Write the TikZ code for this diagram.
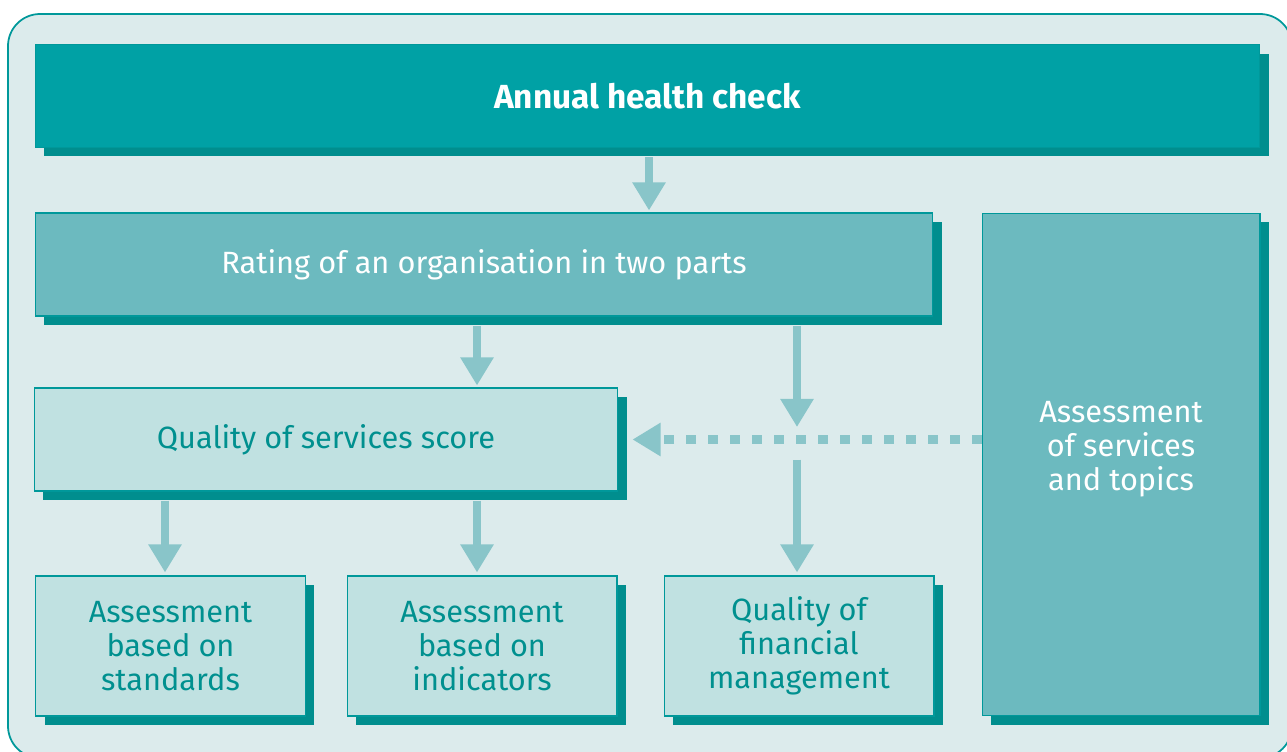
\documentclass[tikz,border=0pt]{standalone}
\usepackage{fontspec}
\setmainfont{Fira Sans}
\usetikzlibrary{arrows.meta,shadows}
\definecolor{framebg}{HTML}{DCEBEC}
\definecolor{frameline}{HTML}{00989A}
\definecolor{darkbox}{HTML}{00A1A5}
\definecolor{midbox}{HTML}{6CBABF}
\definecolor{lightbox}{HTML}{C0E1E1}
\definecolor{shade}{HTML}{008E8E}
\definecolor{tealtext}{HTML}{00908F}
\definecolor{arrowc}{HTML}{89C5C9}
\begin{document}
\begin{tikzpicture}[x=0.02cm,y=-0.02cm,
  box/.style={rectangle, draw=frameline, line width=0.6pt, align=center,
    font=\fontsize{17.5}{19.5}\selectfont,
    drop shadow={shadow xshift=0.18cm, shadow yshift=-0.18cm, fill=shade, opacity=1}},
  topbox/.style={box, fill=darkbox, text=white, font=\fontsize{19}{22}\selectfont\bfseries},
  midbox/.style={box, fill=midbox, text=white},
  lightbox/.style={box, fill=lightbox, text=tealtext},
  flow/.style={draw=arrowc, line width=4.6pt, -{Triangle[width=18pt,length=16pt]}},
  dashflow/.style={flow, dash pattern=on 5.7pt off 6.8pt}]
\useasboundingbox (0,0) rectangle (1287,751);
\clip (0,0) rectangle (1287,751);
% frame
\draw[fill=framebg, draw=frameline, line width=1pt, rounded corners=0.64cm] (8,14) rectangle (1292,758);
% boxes
\node[topbox, minimum width=24.5cm, minimum height=2.06cm] (hc) at (647.5,96) {Annual health check};
\node[midbox, minimum width=17.96cm, minimum height=2.06cm] (rate) at (484,264.5) {\raisebox{-6pt}{Rating of an organisation in two parts}};
\node[midbox, minimum width=5.56cm, minimum height=10.06cm] (svc) at (1121,464.5) {};
\node[text=white, align=center, font=\fontsize{17.5}{19.5}\selectfont] (svct) at (1121,449) {Assessment\\of services\\and topics};
\node[lightbox, minimum width=11.68cm, minimum height=2.06cm] (qs) at (326,439.5) {\raisebox{-6pt}{Quality of services score}};
\node[lightbox, minimum width=5.4cm, minimum height=2.8cm] (std) at (170.5,646) {Assessment\\based on\\standards};
\node[lightbox, minimum width=5.4cm, minimum height=2.8cm] (ind) at (482,646) {Assessment\\based on\\indicators};
\node[lightbox, minimum width=5.4cm, minimum height=2.8cm] (fin) at (799,646) {Quality of\\financial\\management};
\coordinate (cross) at (797,439.5);
% arrows
\draw[flow, shorten <=0.18cm, shorten >=0.04cm] (hc.south -| 649,0) -- (rate.north -| 649,0);
\draw[flow, shorten <=0.18cm, shorten >=0.04cm] (rate.south -| 477,0) -- (qs.north -| 477,0);
\draw[flow, shorten <=0.18cm, shorten >=0.25cm] (rate.south -| cross) -- (cross);
\draw[flow, shorten <=0.4cm, shorten >=0.06cm] (cross) -- (fin.north -| cross);
\draw[flow, shorten <=0.18cm, shorten >=0.06cm] (qs.south -| 165,0) -- (std.north -| 165,0);
\draw[flow, shorten <=0.18cm, shorten >=0.06cm] (qs.south -| 477,0) -- (ind.north -| 477,0);
\draw[dashflow, shorten >=0.28cm] (svc.west |- qs.east) -- (qs.east);
\end{tikzpicture}
\end{document}
